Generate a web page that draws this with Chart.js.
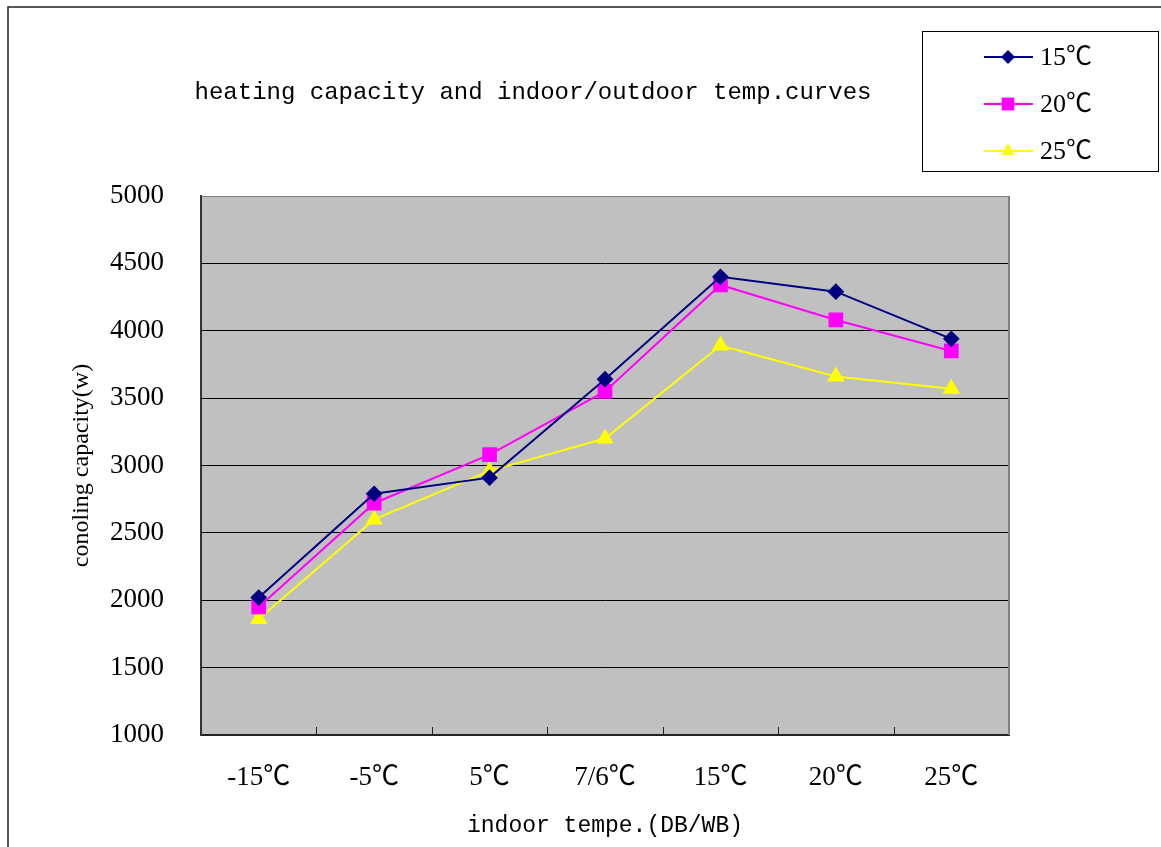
<!DOCTYPE html>
<html>
<head>
<meta charset="utf-8">
<script src="https://cdn.jsdelivr.net/npm/chart.js"></script>
<style>
  html, body { margin: 0; background: #fff; }
  canvas { display: block; }
</style>
</head>
<body>
<canvas id="myChart" width="1161" height="847"></canvas>
<script>
// values
const categories = ['-15℃', '-5℃', '5℃', '7/6℃', '15℃', '20℃', '25℃'];
const seriesNames = ['15℃', '20℃', '25℃'];
const series15 = [2020, 2790, 2910, 3640, 4400, 4290, 3940];
const series20 = [1950, 2720, 3080, 3550, 4340, 4080, 3850];
const series25 = [1860, 2600, 2960, 3200, 3890, 3660, 3570];
const yMin = 1000;
const yMax = 5000;
const yStep = 500;

const chartTitle = 'heating capacity and indoor/outdoor temp.curves';
const xTitle = 'indoor tempe.(DB/WB)';
const yTitle = 'conoling capacity(w)';

const serifFont = '"Liberation Serif", "Noto Sans CJK SC", serif';
const monoFont = '"Liberation Mono", "Noto Sans CJK SC", monospace';

// draw a marker like the ones on the lines (used in the legend box)
function drawMarker(ctx, style, r, x, y, color) {
  ctx.save();
  ctx.fillStyle = color;
  ctx.beginPath();
  if (style === 'rectRot') {
    ctx.moveTo(x, y - r); ctx.lineTo(x + r, y); ctx.lineTo(x, y + r); ctx.lineTo(x - r, y);
  } else if (style === 'rect') {
    const s = r * Math.SQRT1_2;
    ctx.rect(x - s, y - s, 2 * s, 2 * s);
  } else {
    ctx.moveTo(x, y - r);
    ctx.lineTo(x + r * Math.sin(Math.PI / 3), y + r * 0.5);
    ctx.lineTo(x - r * Math.sin(Math.PI / 3), y + r * 0.5);
  }
  ctx.closePath();
  ctx.fill();
  ctx.restore();
}

const framePlugin = {
  id: 'frame',
  beforeDraw(chart) {
    const { ctx, chartArea: a } = chart;
    ctx.save();
    ctx.fillStyle = '#fff';
    ctx.fillRect(0, 0, chart.width, chart.height);
    // outer chart border
    ctx.strokeStyle = '#222';
    ctx.lineWidth = 1.5;
    ctx.beginPath();
    ctx.moveTo(8, chart.height + 2);
    ctx.lineTo(8, 7);
    ctx.lineTo(chart.width + 2, 7);
    ctx.stroke();
    // plot area
    ctx.fillStyle = '#c0c0c0';
    ctx.fillRect(a.left, a.top, a.right - a.left, a.bottom - a.top);
    ctx.restore();
  },
  afterDraw(chart) {
    const { ctx, chartArea: a } = chart;
    const xs = chart.scales.x;
    ctx.save();
    // right edge of plot area
    ctx.strokeStyle = '#808080';
    ctx.lineWidth = 2;
    ctx.beginPath();
    ctx.moveTo(a.right, a.top);
    ctx.lineTo(a.right, a.bottom);
    ctx.stroke();
    // inside tick marks between categories
    ctx.strokeStyle = '#222';
    ctx.lineWidth = 1;
    for (let i = 0; i < categories.length - 1; i++) {
      const x = Math.round((xs.getPixelForTick(i) + xs.getPixelForTick(i + 1)) / 2) + 0.5;
      ctx.beginPath();
      ctx.moveTo(x, a.bottom);
      ctx.lineTo(x, a.bottom - 8);
      ctx.stroke();
    }
    // title
    ctx.fillStyle = '#000';
    ctx.font = '24px ' + monoFont;
    ctx.textAlign = 'center';
    ctx.textBaseline = 'middle';
    ctx.fillText(chartTitle, 533, 93);
    // legend box
    ctx.fillStyle = '#fff';
    ctx.fillRect(922, 31, 236, 140);
    ctx.strokeStyle = '#000';
    ctx.lineWidth = 1;
    ctx.strokeRect(922.5, 31.5, 236, 140);
    const rows = [57, 104, 151];
    chart.data.datasets.forEach((ds, i) => {
      const y = rows[i];
      ctx.strokeStyle = ds.borderColor;
      ctx.lineWidth = 2;
      ctx.beginPath();
      ctx.moveTo(984, y);
      ctx.lineTo(1033, y);
      ctx.stroke();
      drawMarker(ctx, ds.pointStyle, ds.pointRadius, 1008, y, ds.pointBackgroundColor);
      ctx.fillStyle = '#000';
      ctx.font = '26px ' + serifFont;
      ctx.textAlign = 'left';
      ctx.textBaseline = 'middle';
      ctx.fillText(ds.label, 1040, y + 1);
    });
    ctx.restore();
  }
};

const data = {
  labels: categories,
  datasets: [
    {
      label: seriesNames[0],
      data: series15,
      borderColor: '#000080',
      backgroundColor: '#000080',
      pointBackgroundColor: '#000080',
      pointBorderColor: '#000080',
      pointStyle: 'rectRot',
      pointRadius: 7,
      borderWidth: 2
    },
    {
      label: seriesNames[1],
      data: series20,
      borderColor: '#ff00ff',
      backgroundColor: '#ff00ff',
      pointBackgroundColor: '#ff00ff',
      pointBorderColor: '#ff00ff',
      pointStyle: 'rect',
      pointRadius: 9,
      borderWidth: 2
    },
    {
      label: seriesNames[2],
      data: series25,
      borderColor: '#ffff00',
      backgroundColor: '#ffff00',
      pointBackgroundColor: '#ffff00',
      pointBorderColor: '#ffff00',
      pointStyle: 'triangle',
      pointRadius: 8,
      borderWidth: 2
    }
  ]
};

const ctx = document.getElementById('myChart').getContext('2d');
new Chart(ctx, {
  type: 'line',
  data: data,
  plugins: [framePlugin],
  options: {
    responsive: false,
    animation: false,
    layout: { padding: { top: 196, right: 152, left: 0, bottom: 0 } },
    plugins: {
      legend: { display: false },
      title: { display: false },
      tooltip: { enabled: false }
    },
    elements: { line: { tension: 0 } },
    scales: {
      x: {
        offset: true,
        afterFit(scale) { scale.height = 112; },
        grid: { display: false },
        border: { display: true, color: '#222', width: 2 },
        ticks: {
          color: '#000',
          padding: 19,
          maxRotation: 0,
          font: { family: serifFont, size: 27 }
        },
        title: {
          display: true,
          text: xTitle,
          color: '#000',
          font: { family: monoFont, size: 23 },
          padding: { top: 0, bottom: 7 }
        }
      },
      y: {
        min: yMin,
        max: yMax,
        afterFit(scale) { scale.width = 201; },
        grid: {
          drawTicks: false,
          lineWidth: 1,
          color: (c) => (c.tick && c.tick.value === yMax ? '#808080' : '#000')
        },
        border: { display: true, color: '#333', width: 2 },
        ticks: {
          stepSize: yStep,
          color: '#000',
          padding: 37,
          format: { useGrouping: false },
          font: { family: serifFont, size: 27 }
        },
        title: {
          display: true,
          text: yTitle,
          color: '#000',
          font: { family: serifFont, size: 24 },
          padding: { top: 67, bottom: 0 }
        }
      }
    }
  }
});
</script>
</body>
</html>
